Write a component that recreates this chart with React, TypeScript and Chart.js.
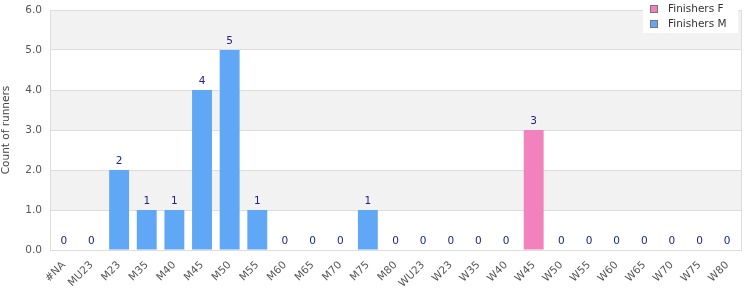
import React, { useEffect, useRef } from "react";
import { Chart, registerables } from "chart.js";

Chart.register(...registerables);

const categories = ["#NA","MU23","M23","M35","M40","M45","M50","M55","M60","M65","M70","M75","M80","WU23","W23","W35","W40","W45","W50","W55","W60","W65","W70","W75","W80"];
const finishersF = [0,0,0,0,0,0,0,0,0,0,0,0,0,0,0,0,0,3,0,0,0,0,0,0,0];
const finishersM = [0,0,2,1,1,4,5,1,0,0,0,1,0,0,0,0,0,0,0,0,0,0,0,0,0];
const yTicks = [0,1,2,3,4,5,6];

const FONT = "DejaVu Sans, Verdana, sans-serif";
const PINK = "#f282bd";
const BLUE = "#60a8f5";

const bandsPlugin = {
  id: "bands",
  beforeDraw(chart: any) {
    const { ctx, chartArea, scales } = chart;
    const y = scales.y;
    ctx.save();
    ctx.fillStyle = "#ffffff";
    ctx.fillRect(chartArea.left, chartArea.top, chartArea.right - chartArea.left, chartArea.bottom - chartArea.top);
    ctx.fillStyle = "#f2f2f2";
    for (let i = 0; i < yTicks.length - 1; i++) {
      if (i % 2 === 1) {
        const top = y.getPixelForValue(yTicks[i + 1]);
        const bot = y.getPixelForValue(yTicks[i]);
        ctx.fillRect(chartArea.left, top, chartArea.right - chartArea.left, bot - top);
      }
    }
    ctx.restore();
  },
  afterDraw(chart: any) {
    const { ctx, chartArea, scales } = chart;
    ctx.save();
    // right border
    ctx.strokeStyle = "#dddddd";
    ctx.lineWidth = 1;
    ctx.beginPath();
    ctx.moveTo(Math.round(chartArea.right) + 0.5, chartArea.top);
    ctx.lineTo(Math.round(chartArea.right) + 0.5, chartArea.bottom);
    ctx.stroke();
    // value labels (totals)
    ctx.font = "10.5px " + FONT;
    ctx.fillStyle = "#22228a";
    ctx.textAlign = "center";
    ctx.textBaseline = "bottom";
    categories.forEach((_, i) => {
      const total = finishersF[i] + finishersM[i];
      const x = scales.x.getPixelForValue(i);
      const yy = scales.y.getPixelForValue(total);
      ctx.fillText(String(total), x, yy - 3);
    });
    // legend
    const lx = 643, ly = 0, lw = 95, lh = 33;
    ctx.fillStyle = "#ffffff";
    ctx.fillRect(lx, ly, lw, lh);
    const items = [["Finishers F", PINK], ["Finishers M", BLUE]];
    items.forEach(([label, color], k) => {
      const sy = 5 + k * 15;
      ctx.fillStyle = color;
      ctx.fillRect(650, sy, 8, 8);
      ctx.strokeStyle = "#777777";
      ctx.lineWidth = 1;
      ctx.strokeRect(650.5, sy + 0.5, 7, 7);
      ctx.fillStyle = "#333333";
      ctx.textAlign = "left";
      ctx.textBaseline = "middle";
      ctx.fillText(label, 668, sy + 4.5);
    });
    ctx.restore();
  },
};

export default function App() {
  const ref = useRef<HTMLCanvasElement>(null);
  useEffect(() => {
    document.body.style.margin = "0";
    const chart = new Chart(ref.current!, {
      type: "bar",
      data: {
        labels: categories,
        datasets: [
          { label: "Finishers F", data: finishersF, backgroundColor: PINK, borderWidth: 0, inflateAmount: 0, barPercentage: 0.9, categoryPercentage: 0.8 },
          { label: "Finishers M", data: finishersM, backgroundColor: BLUE, borderWidth: 0, inflateAmount: 0, barPercentage: 0.9, categoryPercentage: 0.8 },
        ],
      },
      options: {
        animation: false,
        responsive: false,
        devicePixelRatio: 1,
        layout: { padding: { top: 10, right: 9, left: 0, bottom: 0 } },
        plugins: { legend: { display: false }, tooltip: { enabled: false } },
        scales: {
          x: {
            stacked: true,
            grid: { display: false, drawTicks: false },
            border: { display: true, color: "#dddddd" },
            ticks: {
              color: "#555555",
              font: { family: FONT, size: 10.5 },
              minRotation: 45,
              maxRotation: 45,
              autoSkip: false,
              padding: 9,
            },
            afterFit: (s: any) => { s.height = 50; },
          },
          y: {
            stacked: true,
            min: 0,
            max: 6,
            grid: { color: "#dddddd", drawTicks: false },
            border: { display: true, color: "#dddddd" },
            ticks: {
              stepSize: 1,
              color: "#555555",
              font: { family: FONT, size: 10.5, lineHeight: 0.3 },
              padding: 8,
              callback: (v: any) => Number(v).toFixed(1),
            },
            title: {
              display: true,
              text: "Count of runners",
              color: "#444444",
              font: { family: FONT, size: 10.5 },
              padding: 0,
            },
            afterFit: (s: any) => { s.width = 50; },
          },
        },
      },
      plugins: [bandsPlugin],
    });
    return () => chart.destroy();
  }, []);
  return (
    <div style={{ position: "absolute", left: 0, top: 0, width: 750, height: 300 }}>
      <canvas ref={ref} width={750} height={300} />
    </div>
  );
}
